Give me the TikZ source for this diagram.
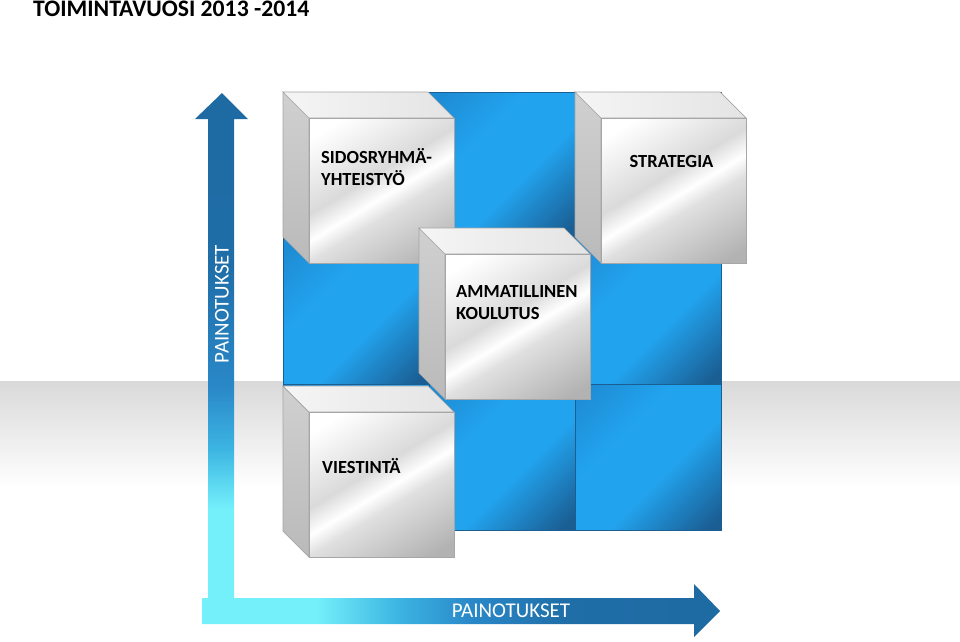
\documentclass[tikz,border=0pt]{standalone}
\usepackage{fontspec}
\setmainfont{Carlito}
\definecolor{cy}{HTML}{74F0FB}
\definecolor{lb}{HTML}{3CB4E2}
\definecolor{mb}{HTML}{2A88C8}
\definecolor{db}{HTML}{1F6EA8}
\definecolor{dbb}{HTML}{1D6399}
\definecolor{bA}{HTML}{1E8CD4}
\definecolor{bB}{HTML}{22A3EE}
\definecolor{bC}{HTML}{1A5E93}
\definecolor{cellline}{HTML}{1B5F92}
\definecolor{fA}{HTML}{DADADA}
\definecolor{fB}{HTML}{E0E0E0}
\definecolor{fC}{HTML}{B2B2B2}
\definecolor{edgegray}{HTML}{A6A6A6}
\definecolor{sideA}{HTML}{D0D0D0}
\definecolor{sideB}{HTML}{BABABA}
\definecolor{topA}{HTML}{F5F5F5}
\definecolor{topB}{HTML}{E4E4E4}
\definecolor{bandgray}{HTML}{D9D9D9}
\pgfdeclarehorizontalshading{cellsh}{100bp}{color(0bp)=(bA); color(18bp)=(bA); color(38bp)=(bB); color(58bp)=(bB); color(82bp)=(bC); color(100bp)=(bC)}
\pgfdeclarehorizontalshading{frontsh}{100bp}{color(0bp)=(white); color(22bp)=(white); color(44bp)=(fA); color(52bp)=(white); color(58bp)=(fB); color(80bp)=(fC); color(100bp)=(fC)}
\pgfdeclareverticalshading{varrowsh}{100bp}{color(0bp)=(cy); color(34bp)=(cy); color(40bp)=(lb); color(46bp)=(mb); color(58bp)=(db); color(100bp)=(dbb)}
\pgfdeclarehorizontalshading{harrowsh}{100bp}{color(0bp)=(cy); color(36bp)=(cy); color(44bp)=(lb); color(51bp)=(mb); color(60bp)=(db); color(100bp)=(dbb)}
\tikzset{
  cell/.style={draw=cellline, line width=0.6pt, shade, shading=cellsh, shading angle=-45,
    minimum width=146pt, minimum height=146pt, inner sep=0pt, anchor=north west},
  front/.style={draw=edgegray, line width=0.7pt, shade, shading=frontsh, shading angle=-59,
    minimum width=145pt, minimum height=145pt, inner sep=0pt, anchor=north west},
  sideface/.style={draw=edgegray, line width=0.7pt, top color=sideA, bottom color=sideB},
  topface/.style={draw=edgegray, line width=0.7pt, left color=topA, right color=topB},
  lbl/.style={font=\bfseries\fontsize{18.5}{22}\selectfont, inner sep=0pt, align=left, anchor=base west},
  axlbl/.style={font=\fontsize{21}{25}\selectfont, text=white, inner sep=0pt},
}
\newcommand\drawcube[2]{%
  \begin{scope}[shift={(#1)}]
    \path[sideface] (0,0) -- (26,26) -- (26,171) -- (0,145) -- cycle;
    \path[topface] (0,0) -- (145,0) -- (171,26) -- (26,26) -- cycle;
    \node[front] (#2) at (26,26) {};
  \end{scope}}
\begin{document}
\begin{tikzpicture}[x=1pt,y=-1pt]
\useasboundingbox (0,0) rectangle (960,641);
\fill[white] (0,0) rectangle (960,641);
% horizon band
\shade[top color=bandgray, bottom color=white] (0,381) rectangle (960,488);
% title
\node[font=\bfseries\fontsize{23.7}{27}\selectfont, inner sep=0pt, anchor=base west] (title) at (33,16) {TOIMINTAVUOSI 2013 -2014};
% blue grid
\foreach \c/\xx in {1/283,2/429,3/575}
  \foreach \r/\yy in {1/92,2/238,3/384}
    \node[cell] (cell\r\c) at (\xx,\yy) {};
% axes
\shade[shading=varrowsh] (208,600) -- (208,119) -- (195,119) -- (222,93) -- (248,119) -- (234,119) -- (234,600) -- cycle;
\shade[shading=harrowsh] (202,598) -- (694,598) -- (694,584) -- (720,611) -- (694,637) -- (694,624) -- (202,624) -- cycle;
\node[axlbl, rotate=90] (vlabel) at (222,304) {PAINOTUKSET};
\node[axlbl] (hlabel) at (511,611) {PAINOTUKSET};
% cubes
\drawcube{283,92}{cubeA}
\drawcube{575,92}{cubeB}
\drawcube{419,228}{cubeC}
\drawcube{283,386}{cubeD}
% labels (base = baseline of last line)
\node[lbl] (labA) at (321,185) {SIDOSRYHMÄ-\\YHTEISTYÖ};
\node[lbl, anchor=base] (labB) at (671.5,167) {STRATEGIA};
\node[lbl] (labC) at (456,319) {AMMATILLINEN\\KOULUTUS};
\node[lbl] (labD) at (322,473) {VIESTINTÄ};
\end{tikzpicture}
\end{document}
